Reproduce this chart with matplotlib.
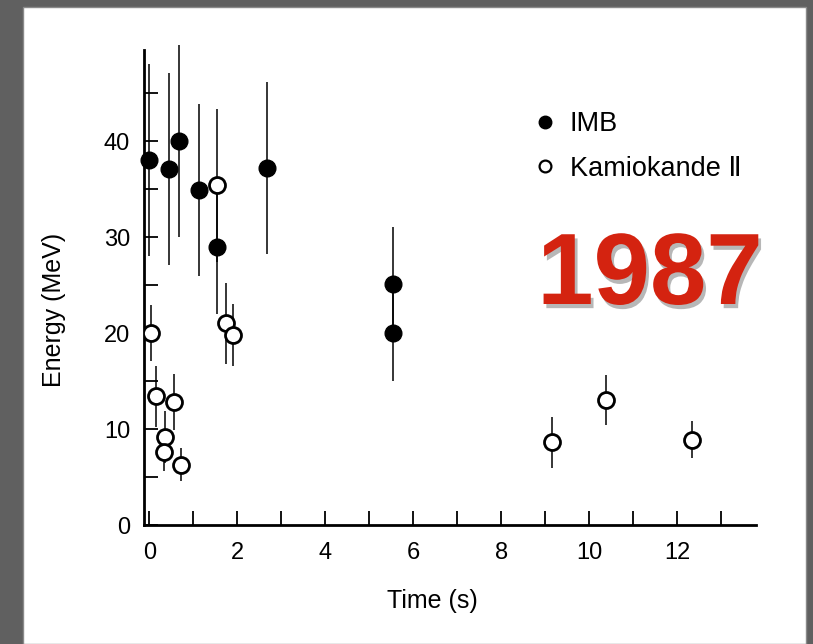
import matplotlib.pyplot as plt
import matplotlib.patheffects as pe
from matplotlib.patches import Rectangle
from matplotlib.lines import Line2D
from matplotlib.ticker import MultipleLocator

plt.rcParams['font.family'] = ['Liberation Sans', 'DejaVu Sans']

# IMB events (filled circles)
imb_t = [0.0, 0.44, 0.67, 1.13, 1.54, 2.68, 5.55, 5.55]
imb_e = [38.0, 37.1, 40.0, 34.9, 29.0, 37.2, 25.1, 20.0]
imb_err = [10.0, 10.0, 10.0, 9.0, 7.0, 9.0, 6.0, 5.0]

# Kamiokande II events (open circles)
kam_t = [0.03, 0.15, 0.56, 0.35, 0.33, 0.72, 1.54, 1.74, 1.90, 9.15, 10.38, 12.35]
kam_e = [20.0, 13.4, 12.8, 9.2, 7.6, 6.3, 35.4, 21.0, 19.8, 8.6, 13.0, 8.9]
kam_err = [2.9, 3.2, 2.9, 2.7, 2.0, 1.7, 8.0, 4.2, 3.2, 2.7, 2.6, 1.9]

fig = plt.figure(figsize=(8.13, 6.44), dpi=100, facecolor='#606060')

# white slide panel
fig.patches.append(Rectangle((23 / 813, 0), 783 / 813, 1 - 7 / 644,
                             transform=fig.transFigure, facecolor='white',
                             edgecolor='#8a8a8a', linewidth=1, zorder=-10))

ax = fig.add_axes([144 / 813, 1 - 525 / 644, (756 - 144) / 813, (525 - 50) / 644])
ax.set_facecolor('none')
ax.set_zorder(2)

ax.errorbar(imb_t, imb_e, yerr=imb_err, fmt='o', color='black', ms=12,
            elinewidth=1.1, capsize=0, zorder=3, clip_on=False)
ax.errorbar(kam_t, kam_e, yerr=kam_err, fmt='o', color='black', ms=11.5,
            mfc='white', mec='black', mew=2, elinewidth=1.1, capsize=0, zorder=4)

ax.set_xlim(-0.125, 13.8)
ax.set_ylim(0, 49.5)

for s in ['top', 'right']:
    ax.spines[s].set_visible(False)
for s in ['left', 'bottom']:
    ax.spines[s].set_linewidth(2)

ax.xaxis.set_major_locator(MultipleLocator(2))
ax.xaxis.set_minor_locator(MultipleLocator(1))
ax.yaxis.set_major_locator(MultipleLocator(10))
ax.yaxis.set_minor_locator(MultipleLocator(5))
ax.tick_params(which='both', direction='in', length=10, width=1.3, labelsize=17)
ax.tick_params(axis='x', pad=12)
ax.tick_params(axis='y', pad=10)

ax.set_xlabel('Time (s)', fontsize=18)
ax.set_ylabel('Energy (MeV)', fontsize=18)
ax.xaxis.set_label_coords(0.472, -0.135)
ax.yaxis.set_label_coords(-0.128, 0.453)

handles = [
    Line2D([], [], marker='o', ls='none', color='black', ms=9),
    Line2D([], [], marker='o', ls='none', mfc='white', mec='black', mew=1.6, ms=8.5),
]
fig.legend(handles, ['IMB', 'Kamiokande Ⅱ'], loc='upper left',
           bbox_to_anchor=(537 / 813, 1 - 111 / 644), frameon=False,
           fontsize=19.5, handlelength=0.6, handletextpad=0.6, labelspacing=0.7,
           borderaxespad=0, borderpad=0)

fig.text(650 / 813, 1 - 278 / 644, '1987', fontsize=73, fontweight='bold',
         color='#d42310', ha='center', va='center',
         path_effects=[pe.SimplePatchShadow(offset=(2, -3), alpha=0.35,
                                            shadow_rgbFace='#333333'),
                       pe.Normal()])

fig.savefig('out.png', dpi=100, facecolor=fig.get_facecolor())
